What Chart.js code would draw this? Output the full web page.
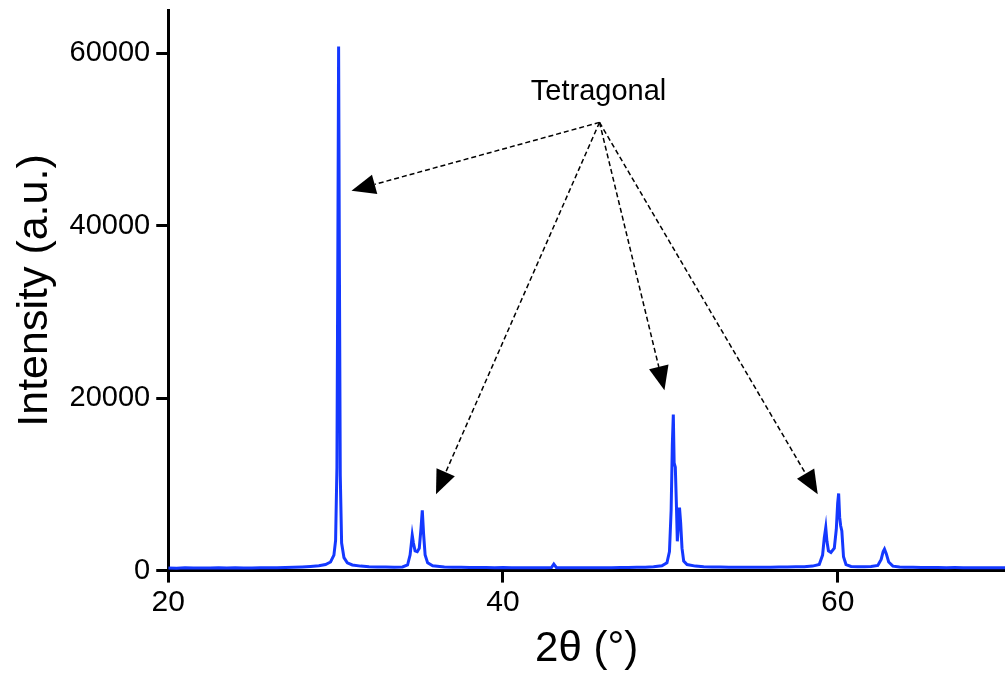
<!DOCTYPE html>
<html>
<head>
<meta charset="utf-8">
<script src="https://cdn.jsdelivr.net/npm/chart.js@4/dist/chart.umd.min.js"></script>
<style>
  html, body { margin: 0; padding: 0; background: #fff; }
  #wrap { width: 1005px; height: 680px; }
</style>
</head>
<body>
<div id="wrap"><canvas id="chart"></canvas></div>
<script>
// XRD pattern
const twoTheta = [
  20, 20.5, 21, 21.5, 22, 22.5, 23, 23.5, 24, 24.5, 25, 25.5, 26, 26.5, 27, 27.5, 28, 28.5,
  29, 29.4, 29.7, 29.9, 30.0, 30.08, 30.13, 30.18, 30.23, 30.28, 30.36, 30.5, 30.7, 31, 31.5,
  32, 32.5, 33, 33.5, 34, 34.3, 34.45, 34.52, 34.58, 34.65, 34.75, 34.88, 35.0, 35.1, 35.18,
  35.26, 35.35, 35.5, 35.8, 36.5, 37, 37.5, 38, 38.5, 39, 39.5, 40, 40.5, 41, 41.5, 42, 42.5,
  42.9, 43.04, 43.2, 43.5, 44, 44.5, 45, 45.5, 46, 46.5, 47, 47.5, 48, 48.5, 49, 49.5, 49.8,
  49.95, 50.05, 50.12, 50.18, 50.23, 50.3, 50.36, 50.42, 50.48, 50.55, 50.62, 50.7, 50.8, 51.0,
  51.5, 52, 52.5, 53, 53.5, 54, 54.5, 55, 55.5, 56, 56.5, 57, 57.5, 58, 58.5, 58.9, 59.1, 59.2,
  59.29, 59.36, 59.45, 59.6, 59.8, 59.92, 60.0, 60.06, 60.12, 60.18, 60.25, 60.35, 60.5, 60.8,
  61.2, 61.6, 62, 62.4, 62.6, 62.72, 62.8, 62.9, 63.05, 63.3, 63.7, 64, 64.5, 65, 65.5, 66,
  66.5, 67, 67.5, 68, 68.5, 69, 69.5, 70
];
const intensity = [
  300, 280, 320, 290, 310, 300, 330, 290, 320, 310, 300, 340, 320, 330, 360, 380, 420, 480,
  560, 700, 1000, 1800, 3500, 12000, 35000, 60800, 34000, 11000, 3200, 1500, 900, 650, 520,
  460, 430, 410, 400, 420, 650, 1800, 3000, 4100, 3200, 2300, 2200, 2600, 4800, 7000,
  4200, 1800, 900, 550, 430, 400, 380, 360, 370, 350, 340, 350, 330, 340, 320, 340, 330,
  350, 750, 340, 330, 330, 340, 320, 330, 340, 330, 350, 360, 380, 400, 440, 560, 900,
  2200, 7000, 14500, 18100, 12500, 12000, 8000, 3400, 5200, 7300, 5500, 2600, 1100, 700,
  520, 460, 430, 420, 400, 390, 400, 380, 390, 400, 410, 420, 440, 460, 520, 700, 1800, 3800,
  5000, 3400, 2300, 2100, 2600, 4800, 7800, 8950, 6200, 5200, 4600, 1600, 700, 480,
  450, 440, 480, 600, 1300, 2200, 2500, 2000, 1000, 520, 420, 400, 380, 370, 360, 350,
  340, 350, 340, 330, 340, 320, 330, 320
];
const xTicks = [20, 40, 60];
const yTicks = [0, 20000, 40000, 60000];

// annotation: label and arrow tips, in data units
const noteLabel = "Tetragonal";
const noteText = { x: 45.71, y: 55500 };
const noteOrigin = { x: 45.77, y: 52000 };
const noteTips = [
  { x: 30.95, y: 44070 },
  { x: 36.0, y: 8850 },
  { x: 49.65, y: 20930 },
  { x: 58.81, y: 8850 }
];

const FONT = "'Liberation Sans', Arial, Helvetica, sans-serif";

const arrowPlugin = {
  id: "arrows",
  afterDraw(chart) {
    const ctx = chart.ctx;
    const xs = chart.scales.x, ys = chart.scales.y;
    const ox = xs.getPixelForValue(noteOrigin.x);
    const oy = ys.getPixelForValue(noteOrigin.y);
    ctx.save();
    ctx.fillStyle = "#000";
    ctx.strokeStyle = "#000";
    ctx.font = "29px " + FONT;
    ctx.textAlign = "center";
    ctx.textBaseline = "middle";
    ctx.fillText(noteLabel, xs.getPixelForValue(noteText.x), ys.getPixelForValue(noteText.y));

    noteTips.forEach(t => {
      const tx = xs.getPixelForValue(t.x);
      const ty = ys.getPixelForValue(t.y);
      const ang = Math.atan2(ty - oy, tx - ox);
      const headLen = 24, headW = 10;
      const bx = tx - headLen * Math.cos(ang);
      const by = ty - headLen * Math.sin(ang);
      ctx.setLineDash([5, 3]);
      ctx.lineWidth = 1.5;
      ctx.beginPath();
      ctx.moveTo(ox, oy);
      ctx.lineTo(bx, by);
      ctx.stroke();
      ctx.setLineDash([]);
      ctx.beginPath();
      ctx.moveTo(tx, ty);
      ctx.lineTo(bx + headW * Math.sin(ang), by - headW * Math.cos(ang));
      ctx.lineTo(bx - headW * Math.sin(ang), by + headW * Math.cos(ang));
      ctx.closePath();
      ctx.fill();
    });
    ctx.restore();
  }
};

new Chart(document.getElementById("chart"), {
  type: "line",
  data: {
    datasets: [{
      data: twoTheta.map((x, i) => ({ x: x, y: intensity[i] })),
      borderColor: "#1438ff",
      borderWidth: 3,
      pointRadius: 0,
      tension: 0,
      fill: false
    }]
  },
  options: {
    responsive: true,
    maintainAspectRatio: false,
    animation: false,
    layout: { padding: { top: 0, right: 0, left: 5, bottom: 1 } },
    plugins: { legend: { display: false }, tooltip: { enabled: false } },
    scales: {
      x: {
        type: "linear",
        min: 20,
        max: 70,
        afterBuildTicks: s => { s.ticks = xTicks.map(v => ({ value: v })); },
        grid: { drawOnChartArea: false, drawTicks: true, tickLength: 12, color: "#000", lineWidth: 3 },
        border: { display: true, color: "#000", width: 3 },
        ticks: { color: "#000", font: { family: FONT, size: 30 }, padding: 2, maxRotation: 0 },
        title: { display: true, text: "2\u03b8 (\u00b0)", color: "#000", font: { family: FONT, size: 42 }, padding: { top: 2 } }
      },
      y: {
        min: 0,
        max: 65000,
        afterBuildTicks: s => { s.ticks = yTicks.map(v => ({ value: v })); },
        grid: { drawOnChartArea: false, drawTicks: true, tickLength: 12, color: "#000", lineWidth: 3 },
        border: { display: true, color: "#000", width: 3 },
        ticks: { color: "#000", font: { family: FONT, size: 29, lineHeight: 0.3 }, padding: 6, callback: v => String(v) },
        title: { display: true, text: "Intensity (a.u.)", color: "#000", font: { family: FONT, size: 43 }, padding: { bottom: 3 } }
      }
    }
  },
  plugins: [arrowPlugin]
});
</script>
</body>
</html>
